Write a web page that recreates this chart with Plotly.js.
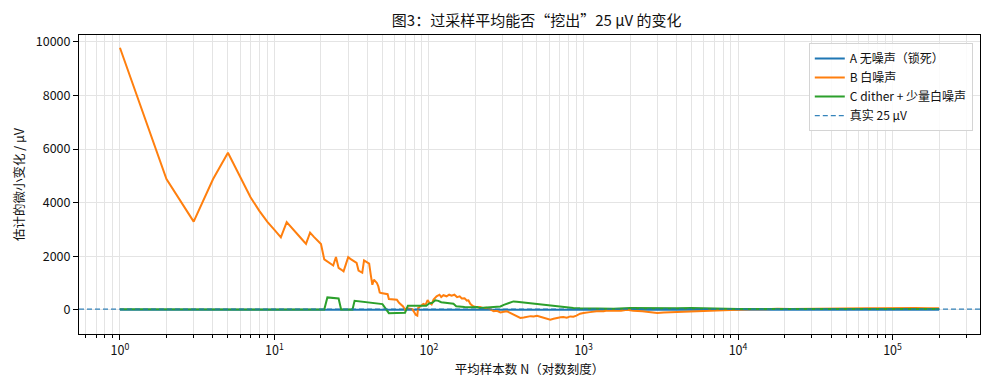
<!DOCTYPE html>
<html>
<head>
<meta charset="utf-8">
<script src="https://cdn.plot.ly/plotly-3.0.1.min.js"></script>
<style>html,body{margin:0;padding:0;background:#fff;}#chart{width:989px;height:390px;}</style>
</head>
<body>
<div id="chart"></div>
<script>
// ---- data ----
const nA = [1, 200000];
const valA = [0, 0];

const nB = [1,2,3,4,5,6,7,8,9,10,11,12,13,14,15,16,17,18,19,20,21,22,23,24,25,26,27,28,29,30,31,32,33,34,35,36,37,38,39,40,41,42,43,44,45,46,47,48,49,50,52,54,55,58,62,64,66,68,70,72,75,78,80,82,84,85,88,92,95,98,100,104,107,112,117,120,124,130,135,140,146,152,158,163,170,176,180,185,190,195,205,214,225,236,248,262,275,290,305,320,335,352,370,390,410,430,455,476,500,525,550,580,610,640,675,710,740,780,820,860,900,950,1000,1045,1100,1215,1350,1420,1570,1750,1910,2100,2400,2700,3000,3300,3700,4200,4800,5500,6200,7000,8000,9000,10000,12000,15000,18000,22000,27000,33000,40000,50000,60000,70000,80000,90000,100000,120000,140000,170000,200000];
const valB = [9780,4880,3290,4870,5860,4930,4200,3680,3280,2980,2700,3270,3030,2820,2640,2460,2880,2720,2580,2450,1880,1800,1720,1650,1970,1560,1500,1430,1700,1960,1900,1850,1800,1750,1460,1420,1380,1840,1800,1760,1720,1300,930,1120,1060,1000,870,640,620,610,600,580,400,390,370,260,180,120,0,60,40,20,-80,-190,-220,60,130,220,180,360,280,200,380,500,560,470,540,500,560,520,560,470,500,420,430,340,350,220,160,120,90,100,60,70,20,-60,-40,-100,-80,-60,-120,-190,-250,-310,-290,-270,-240,-250,-230,-260,-300,-330,-370,-340,-300,-280,-270,-300,-250,-260,-220,-150,-125,-100,-90,-60,-60,-30,-25,-40,-5,-40,-60,-90,-125,-100,-90,-80,-70,-50,-30,-10,0,10,5,15,20,40,30,30,25,30,35,40,50,55,60,55,60,60,55,50];

const nC = [1,5,10,15,20,21,22,23,24,25,26,27,28,31,32,33,36,40,45,49,50,55,60,66,70,73,80,90,96,100,105,110,115,120,130,140,144,150,160,170,190,205,214,230,250,270,290,305,319,335,352,370,390,410,430,460,500,540,580,640,700,780,860,950,1100,1300,1570,2000,2500,3000,4000,5000,6000,7000,8000,10000,15000,20000,30000,50000,100000,200000];
const valC = [20,20,15,10,5,5,460,450,440,430,420,10,5,5,5,330,310,280,250,220,210,-130,-125,-120,-110,150,150,145,150,230,260,350,330,280,260,230,220,130,110,100,90,100,60,80,100,110,120,180,220,290,310,300,285,270,250,220,190,170,150,120,100,80,60,50,40,40,35,60,50,60,55,60,50,40,30,30,30,25,30,28,27,26];

const trueValue = 25;
const xTickVals = [1, 10, 100, 1000, 10000, 100000];
const xTickText = ['10<sup>0</sup>','10<sup>1</sup>','10<sup>2</sup>','10<sup>3</sup>','10<sup>4</sup>','10<sup>5</sup>'];
const yTickVals = [0, 2000, 4000, 6000, 8000, 10000];
const names = ['A 无噪声（锁死）', 'B 白噪声', 'C dither + 少量白噪声', '真实 25 μV'];

// ---- chart ----
const FONT = '"Noto Sans CJK SC", "Noto Sans", sans-serif';
const traces = [
  {x: nA, y: valA, type: 'scatter', mode: 'lines', name: names[0], line: {color: '#1f77b4', width: 2}},
  {x: nB, y: valB, type: 'scatter', mode: 'lines', name: names[1], line: {color: '#ff7f0e', width: 2}},
  {x: nC, y: valC, type: 'scatter', mode: 'lines', name: names[2], line: {color: '#2ca02c', width: 2}}
];
const grid = '#e4e4e4';
const layout = {
  width: 989, height: 390,
  margin: {l: 79, r: 9, t: 35, b: 56},
  paper_bgcolor: '#fff', plot_bgcolor: '#fff',
  font: {family: FONT, size: 12.5, color: '#111'},
  title: {text: '图3：过采样平均能否“挖出”25 μV 的变化', font: {family: FONT, size: 15, color: '#111'},
          x: 0.508, xref: 'paper', xanchor: 'center', y: 0.948, yref: 'container', yanchor: 'middle'},
  xaxis: {
    type: 'log', range: [-0.265, 5.566],
    tickvals: xTickVals, ticktext: xTickText,
    ticks: 'outside', ticklen: 5, tickwidth: 1, tickcolor: '#000',
    showline: true, linecolor: '#000', linewidth: 1, mirror: true,
    showgrid: true, gridcolor: grid, gridwidth: 1, zeroline: false,
    minor: {ticks: 'outside', ticklen: 3, tickcolor: '#000', showgrid: true, gridcolor: grid, gridwidth: 1, dtick: 'D1'},
    tickfont: {size: 12.5, family: FONT},
    title: {text: '平均样本数 N（对数刻度）', font: {size: 12.5, family: FONT}, standoff: 6}
  },
  yaxis: {
    range: [-907, 10257],
    tickvals: yTickVals, tickformat: 'd',
    ticks: 'outside', ticklen: 5, tickwidth: 1, tickcolor: '#000',
    showline: true, linecolor: '#000', linewidth: 1, mirror: true,
    showgrid: true, gridcolor: grid, gridwidth: 1, zeroline: false,
    tickfont: {size: 12.5, family: FONT},
    title: {text: '估计的微小变化 / μV', font: {size: 12.5, family: FONT}, standoff: 8}
  },
  shapes: [{
    type: 'line', xref: 'paper', x0: 0, x1: 1, yref: 'y', y0: trueValue, y1: trueValue,
    line: {color: '#1f77b4', width: 1.2, dash: '5px,3px'}, opacity: 0.9,
    showlegend: true, name: names[3]
  }],
  legend: {
    x: 0.992, y: 0.973, xanchor: 'right', yanchor: 'top',
    bgcolor: 'rgba(255,255,255,0.85)', bordercolor: '#d4d4d4', borderwidth: 1,
    font: {size: 12, family: FONT, color: '#111'}, tracegroupgap: 0
  },
  showlegend: true
};
Plotly.newPlot('chart', traces, layout, {displayModeBar: false, staticPlot: true});
</script>
</body>
</html>
